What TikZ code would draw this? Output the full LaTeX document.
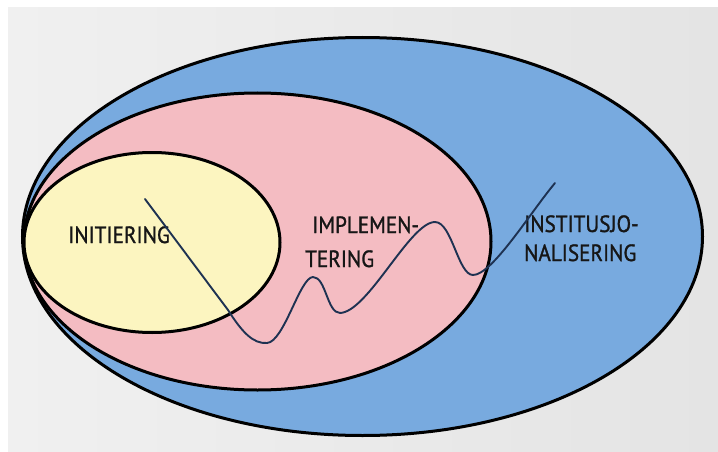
\documentclass[tikz,border=0pt]{standalone}
\usepackage{fontspec}
\usetikzlibrary{shapes.geometric}
\newfontfamily\lblfont{PT Sans}[FakeStretch=0.9,FakeBold=1.2]
\definecolor{bgA}{HTML}{F0F0F0}
\definecolor{bgB}{HTML}{E4E4E4}
\definecolor{outerblue}{HTML}{78AADF}
\definecolor{innerpink}{HTML}{F4BCC2}
\definecolor{coreyellow}{HTML}{FCF5C0}
\definecolor{wave}{HTML}{1E3252}
\definecolor{ink}{HTML}{161616}
\tikzset{
  ring/.style={ellipse, draw=black, line width=3pt, inner sep=0pt, outer sep=0pt},
  lbl/.style={anchor=base west, inner sep=0pt, text=ink, font=\lblfont\fontsize{23.5}{26}\selectfont},
  wavy/.style={draw=wave, line width=1.9pt, line cap=round, line join=round}
}
\begin{document}
\begin{tikzpicture}[x=1pt,y=-1pt]
\useasboundingbox (0,0) rectangle (718,452);
\fill[white] (0,0) rectangle (718,452);
\shade[left color=bgA, right color=bgB] (8,8) rectangle (718,452);
\node[ring, fill=outerblue, minimum width=680pt, minimum height=398pt] (outer) at (362.5,236.5) {};
\node[ring, fill=innerpink, minimum width=467pt, minimum height=297pt] (middle) at (257.5,241.5) {};
\node[ring, fill=coreyellow, minimum width=256pt, minimum height=180pt] (core) at (152,242.5) {};
\node[lbl] (t1) at (68,243) {INITIERING};
\node[lbl] (t2a) at (312,233) {IMPLEMEN-};
\node[lbl] (t2b) at (305,267) {TERING};
\node[lbl] (t3a) at (524,232) {INSTITUSJO-};
\node[lbl] (t3b) at (524,261) {NALISERING};
\draw[wavy] (145,199) -- (228,310)
  .. controls (242,332) and (253,344) .. (267,343)
  .. controls (284,342) and (300,277) .. (313,277)
  .. controls (326,277) and (327,313) .. (340,313)
  .. controls (368,312) and (410,222) .. (435,222)
  .. controls (452,222) and (458,275) .. (473,275)
  .. controls (492,275) and (530,213) .. (555,183);
\end{tikzpicture}
\end{document}
